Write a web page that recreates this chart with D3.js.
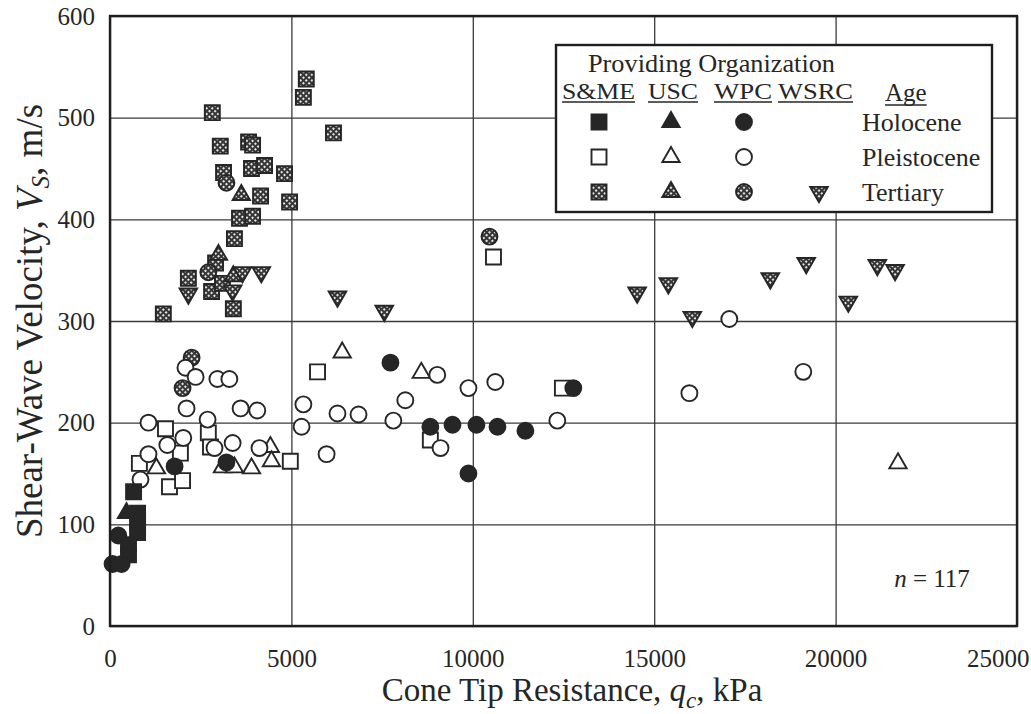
<!DOCTYPE html>
<html>
<head>
<meta charset="utf-8">
<script src="https://cdn.jsdelivr.net/npm/d3@7"></script>
<style>
  body { margin: 0; background: #fff; }
  svg { display: block; font-family: "Liberation Serif", "Times New Roman", serif; }
</style>
</head>
<body>
<svg id="chart" width="1031" height="714"></svg>
<script>
// Axis ticks
const xTicks = [0, 5000, 10000, 15000, 20000, 25000];
const yTicks = [0, 100, 200, 300, 400, 500, 600];

const organizations = ["S&ME", "USC", "WPC", "WSRC"];
const ages = ["Holocene", "Pleistocene", "Tertiary"];
const sampleCount = 117;

// Measurements: [cone tip resistance qc (kPa), shear-wave velocity Vs (m/s)]
const smeHolocene = [[650,132],[760,111],[760,102],[760,92],[510,80],[510,70]];
const uscHolocene = [[455,111]];
const wpcHolocene = [[230,89],[70,61],[320,61],[1780,157],[3210,161],[7730,259],[8830,196],[9440,198],
  [9880,150],[10100,198],[10680,196],[11450,192],[12770,234]];

const smePleistocene = [[810,160],[1530,194],[1640,137],[1940,170],[2000,143],[2710,190],[2770,176],
  [4970,162],[5720,250],[8830,183],[10570,363],[12470,234]];
const uscPleistocene = [[1280,155],[3100,156],[3430,156],[3900,155],[4420,176],[4450,162],[6400,269],
  [8580,249],[21720,160]];
const wpcPleistocene = [[840,144],[1060,169],[1060,200],[1580,178],[2020,185],[2110,214],[2080,254],
  [2360,245],[2960,243],[3290,243],[2690,203],[2880,175],[3380,180],[3600,214],[4060,212],[4120,175],
  [5280,196],[5330,218],[5970,169],[6270,209],[6850,208],[7810,202],[8140,222],[9020,247],[9110,175],
  [9880,234],[10620,240],[12330,202],[15970,229],[17070,302],[19110,250]];

const smeTertiary = [[1470,307],[2160,342],[2800,329],[3100,337],[2910,357],[3400,312],[3430,381],
  [3570,401],[3930,403],[4150,423],[4950,417],[3130,446],[3900,450],[4260,453],[4810,445],[3040,472],
  [3820,476],[3930,473],[2820,505],[6160,485],[5330,520],[5410,538]];
const uscTertiary = [[3620,424],[2990,365],[3400,344]];
const wpcTertiary = [[3210,436],[2710,348],[2250,264],[2000,234],[10460,383]];
const wsrcTertiary = [[2160,327],[3650,348],[3380,330],[4170,348],[6270,324],[7560,310],[14530,328],
  [15390,337],[16050,304],[18200,342],[19190,357],[20350,319],[21150,355],[21640,350]];

// Groups in drawing order
const groups = [
  { org: "S&ME", age: "Tertiary", data: smeTertiary },
  { org: "USC", age: "Tertiary", data: uscTertiary },
  { org: "WPC", age: "Tertiary", data: wpcTertiary },
  { org: "WSRC", age: "Tertiary", data: wsrcTertiary },
  { org: "S&ME", age: "Pleistocene", data: smePleistocene },
  { org: "USC", age: "Pleistocene", data: uscPleistocene },
  { org: "WPC", age: "Pleistocene", data: wpcPleistocene },
  { org: "S&ME", age: "Holocene", data: smeHolocene },
  { org: "USC", age: "Holocene", data: uscHolocene },
  { org: "WPC", age: "Holocene", data: wpcHolocene }
];

const ink = "#262626";
const svg = d3.select("#chart");

const margin = { left: 110, top: 16, right: 14, bottom: 88 };
const W = 1031, H = 714;
const x = d3.scaleLinear().domain([0, 25000]).range([margin.left, W - margin.right]);
const y = d3.scaleLinear().domain([0, 600]).range([H - margin.bottom, margin.top]);

// Hatch fill for Tertiary markers
const defs = svg.append("defs");
const pat = defs.append("pattern")
  .attr("id", "hatch").attr("patternUnits", "userSpaceOnUse")
  .attr("width", 4).attr("height", 4)
  .attr("patternTransform", "rotate(45)");
pat.append("rect").attr("width", 4).attr("height", 4).attr("fill", "#363636");
pat.append("rect").attr("width", 2).attr("height", 2).attr("fill", "#e6e6e6");

// Grid
const grid = svg.append("g");
grid.append("g")
  .attr("transform", `translate(0,${y(0)})`)
  .call(d3.axisBottom(x).tickValues(xTicks).tickSize(-(y(0) - y(600))).tickFormat(""))
  .call(g => g.select(".domain").remove())
  .call(g => g.selectAll("line").attr("stroke", "#3a3a3a").attr("stroke-width", 1.3));
grid.append("g")
  .attr("transform", `translate(${x(0)},0)`)
  .call(d3.axisLeft(y).tickValues(yTicks).tickSize(-(x(25000) - x(0))).tickFormat(""))
  .call(g => g.select(".domain").remove())
  .call(g => g.selectAll("line").attr("stroke", "#3a3a3a").attr("stroke-width", 1.3));

// Tick labels
svg.append("g")
  .attr("transform", `translate(0,${y(0)})`)
  .call(d3.axisBottom(x).tickValues(xTicks).tickSize(0).tickPadding(23).tickFormat(d3.format("d")))
  .call(g => g.select(".domain").remove())
  .call(g => g.selectAll("text").attr("font-size", 25).attr("fill", ink)
    .attr("font-family", "Liberation Serif, serif"))
  .call(g => g.selectAll(".tick").filter(d => d === 25000).select("text")
    .attr("text-anchor", "end").attr("x", W - 2 - x(25000)));
svg.append("g")
  .attr("transform", `translate(${x(0)},0)`)
  .call(d3.axisLeft(y).tickValues(yTicks).tickSize(0).tickPadding(15).tickFormat(d3.format("d")))
  .call(g => g.select(".domain").remove())
  .call(g => g.selectAll("text").attr("font-size", 25).attr("fill", ink)
    .attr("font-family", "Liberation Serif, serif"));

// Marker shapes
const shapeFor = {
  "S&ME": { type: d3.symbolSquare, size: 225, rot: 0 },
  "USC":  { type: d3.symbolTriangle, size: 130, rot: 0 },
  "WPC":  { type: d3.symbolCircle, size: 200, rot: 0 },
  "WSRC": { type: d3.symbolTriangle, size: 135, rot: 180 }
};
const fillFor = { "Holocene": ink, "Pleistocene": "#fff", "Tertiary": "url(#hatch)" };

function drawMarker(sel, org, age) {
  const s = shapeFor[org];
  sel.append("path")
    .attr("d", d3.symbol().type(s.type).size(s.size)())
    .attr("fill", fillFor[age])
    .attr("stroke", ink)
    .attr("stroke-width", 1.9)
    .attr("stroke-linejoin", "miter");
}

const marks = svg.append("g");
groups.forEach(grp => {
  const s = shapeFor[grp.org];
  marks.append("g").selectAll("g")
    .data(grp.data).join("g")
    .attr("transform", d => `translate(${x(d[0])},${y(d[1])}) rotate(${s.rot})`)
    .each(function () { drawMarker(d3.select(this), grp.org, grp.age); });
});

// Plot frame
svg.append("rect")
  .attr("x", x(0)).attr("y", y(600))
  .attr("width", x(25000) - x(0)).attr("height", y(0) - y(600))
  .attr("fill", "none").attr("stroke", "#1e1e1e").attr("stroke-width", 2.4);

// Legend
const lg = svg.append("g");
lg.append("rect").attr("x", 556).attr("y", 45).attr("width", 436).attr("height", 167)
  .attr("fill", "#fff").attr("stroke", "#1e1e1e").attr("stroke-width", 2.4);
lg.append("text").attr("x", 588).attr("y", 72).attr("font-size", 25).attr("fill", ink)
  .attr("textLength", 247).attr("lengthAdjust", "spacingAndGlyphs")
  .text("Providing Organization");

const headerX = [562, 648, 714, 778];
const headerW = [73, 50, 58, 75];
const symbolX = [599, 671, 744, 819];
const rowY = [122, 157, 192];
organizations.forEach((org, i) => {
  lg.append("text").attr("x", headerX[i]).attr("y", 99)
    .attr("font-size", 24).attr("fill", ink)
    .attr("textLength", headerW[i]).attr("lengthAdjust", "spacingAndGlyphs")
    .text(org);
  lg.append("line").attr("x1", headerX[i]).attr("x2", headerX[i] + headerW[i])
    .attr("y1", 102).attr("y2", 102).attr("stroke", ink).attr("stroke-width", 1.4);
});
const ageHead = lg.append("text").attr("x", 885).attr("y", 101)
  .attr("font-size", 25).attr("fill", ink).text("Age");
lg.append("line").attr("x1", 885).attr("x2", 885 + ageHead.node().getComputedTextLength())
  .attr("y1", 105).attr("y2", 105).attr("stroke", ink).attr("stroke-width", 1.4);

ages.forEach((age, r) => {
  lg.append("text").attr("x", 862).attr("y", rowY[r] + 9)
    .attr("font-size", 26).attr("fill", ink).text(age);
  organizations.forEach((org, c) => {
    const present = groups.some(g => g.org === org && g.age === age);
    if (!present) return;
    const g = lg.append("g")
      .attr("transform", `translate(${symbolX[c]},${rowY[r]}) rotate(${shapeFor[org].rot})`);
    drawMarker(g, org, age);
  });
});

// Sample count
const nt = svg.append("text").attr("x", 932).attr("y", 587).attr("text-anchor", "middle")
  .attr("font-size", 25).attr("fill", ink);
nt.append("tspan").attr("font-style", "italic").text("n");
nt.append("tspan").text(" = " + sampleCount);

// Axis titles
const xt = svg.append("text").attr("x", 572).attr("y", 701).attr("text-anchor", "middle")
  .attr("font-size", 33).attr("fill", ink);
xt.append("tspan").text("Cone Tip Resistance, ");
xt.append("tspan").attr("font-style", "italic").text("q");
xt.append("tspan").attr("font-style", "italic").attr("font-size", 23).attr("dy", 7).text("c");
xt.append("tspan").attr("dy", -7).text(", kPa");

const yt = svg.append("text")
  .attr("transform", "translate(42,321) rotate(-90)")
  .attr("text-anchor", "middle").attr("font-size", 37).attr("fill", ink);
yt.append("tspan").text("Shear-Wave Velocity, ");
yt.append("tspan").attr("font-style", "italic").text("V");
yt.append("tspan").attr("font-style", "italic").attr("font-size", 25).attr("dy", 7).text("S");
yt.append("tspan").attr("dy", -7).text(", m/s");
</script>
</body>
</html>
